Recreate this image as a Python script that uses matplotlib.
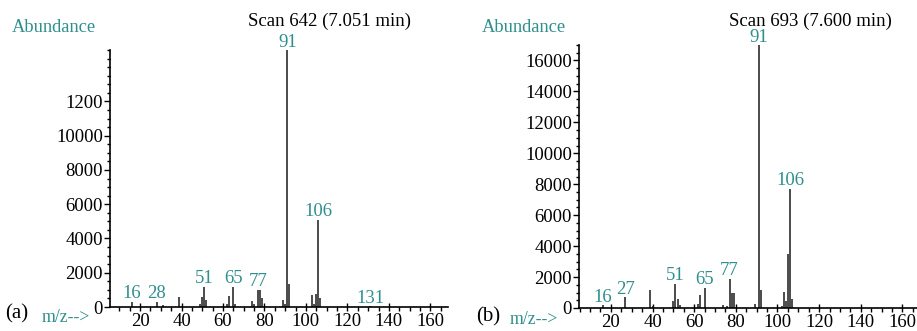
import matplotlib
matplotlib.use('Agg')
import matplotlib.pyplot as plt
from matplotlib.ticker import MultipleLocator

plt.rcParams['font.family'] = ['Liberation Serif', 'DejaVu Serif']

teal = '#2f8f8f'

# scan 642 (a)
mz_a = [16, 28, 31, 39, 49, 50, 51, 52, 62, 63, 65, 66, 74, 75, 77, 78, 79,
        89, 90, 91, 92, 103, 104, 105, 106, 107, 131]
ab_a = [300, 300, 100, 600, 200, 600, 1170, 400, 150, 640, 1170, 150, 330, 200,
        1000, 1000, 500, 400, 200, 16000, 1320, 700, 200, 780, 5100, 500, 30]
labels_a = [16, 28, 51, 65, 77, 91, 106, 131]
yticks_a = [0, 2000, 4000, 6000, 8000, 10000, 12000]
yticklabels_a = ['0', '2000', '4000', '6000', '8000', '10000', '1200']

# scan 693 (b)
mz_b = [16, 27, 39, 40, 50, 51, 52, 53, 62, 63, 65, 74, 76, 77, 78, 79,
        89, 91, 92, 102, 103, 104, 105, 106, 107]
ab_b = [170, 710, 1190, 100, 430, 1570, 590, 200, 280, 810, 1320, 215, 100,
        1900, 970, 970, 280, 17500, 1140, 100, 1030, 440, 3510, 7700, 590]
labels_b = [16, 27, 51, 65, 77, 91, 106]
yticks_b = [0, 2000, 4000, 6000, 8000, 10000, 12000, 14000, 16000]
yticklabels_b = [str(v) for v in yticks_b]

xticks = [20, 40, 60, 80, 100, 120, 140, 160]

fig = plt.figure(figsize=(9.17, 3.31), dpi=100)
ax_a = fig.add_axes([110 / 917, 24 / 331, 338 / 917, 257 / 331])
ax_b = fig.add_axes([579 / 917, 23 / 331, 338 / 917, 263 / 331])


def draw(ax, mz, ab, labels, xlim, ylim, yticks, yticklabels, title, title_x):
    ax.vlines(mz, 0, ab, color='#1a1a1a', lw=1.1)
    ax.set_xlim(*xlim)
    ax.set_ylim(*ylim)
    for s in ['top', 'right']:
        ax.spines[s].set_visible(False)
    ax.spines['left'].set_linewidth(1.2)
    ax.spines['bottom'].set_linewidth(1.2)
    ax.set_xticks(xticks)
    ax.xaxis.set_minor_locator(MultipleLocator(5))
    ax.set_yticks(yticks)
    ax.set_yticklabels(yticklabels)
    ax.yaxis.set_minor_locator(MultipleLocator(500))
    ax.tick_params(axis='x', which='major', direction='inout', length=6, width=1, labelsize=13.5, pad=1.5)
    ax.tick_params(axis='x', which='minor', direction='out', length=3, width=1)
    ax.tick_params(axis='y', which='major', direction='out', length=4, width=1, labelsize=13.5, pad=1)
    ax.tick_params(axis='y', which='minor', direction='out', length=2.5, width=1)
    for m in labels:
        h = ab[mz.index(m)]
        ax.annotate(str(m), (m, min(h, ylim[1])), xytext=(0, 2.5), textcoords='offset points',
                    ha='center', va='baseline', color=teal, fontsize=13.5, annotation_clip=False)
    fig.text(title_x, 1 - 21 / 331, title, ha='center', va='center', fontsize=13.5)


draw(ax_a, mz_a, ab_a, labels_a, (5.5, 168.5), (0, 15000), yticks_a, yticklabels_a,
     'Scan 642 (7.051 min)', 330 / 917)
draw(ax_b, mz_b, ab_b, labels_b, (4.7, 167), (0, 17000), yticks_b, yticklabels_b,
     'Scan 693 (7.600 min)', 810 / 917)

fig.text(12 / 917, 1 - 27 / 331, 'Abundance', color=teal, fontsize=13.3, va='center', ha='left')
fig.text(482 / 917, 1 - 28 / 331, 'Abundance', color=teal, fontsize=13.3, va='center', ha='left')
fig.text(17 / 917, 1 - 314 / 331, '(a)', fontsize=15, va='center', ha='center')
fig.text(42 / 917, 1 - 318 / 331, 'm/z-->', color=teal, fontsize=12.8, va='center', ha='left')
fig.text(488 / 917, 1 - 317 / 331, '(b)', fontsize=15, va='center', ha='center')
fig.text(510 / 917, 1 - 320 / 331, 'm/z-->', color=teal, fontsize=12.8, va='center', ha='left')

fig.savefig('out.png', dpi=100)
